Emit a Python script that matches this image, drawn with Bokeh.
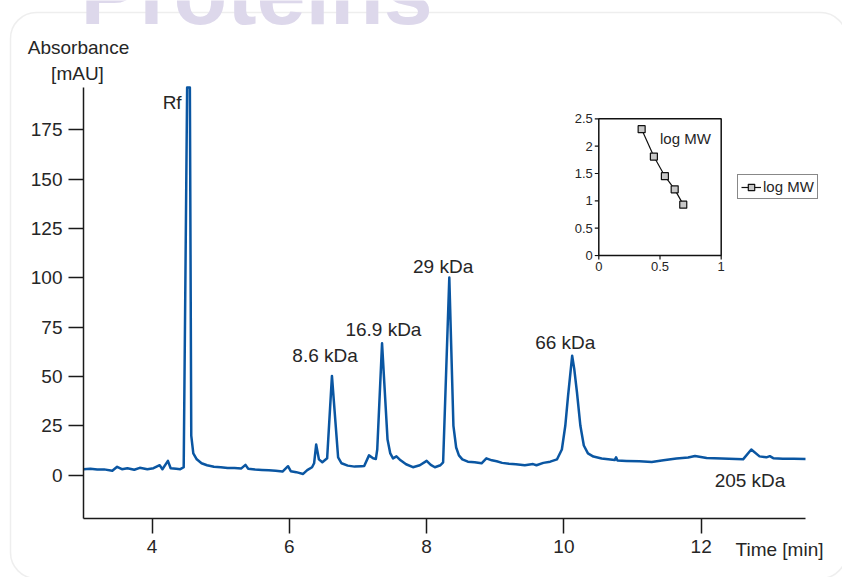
import math
from bokeh.plotting import figure
from bokeh.models import (Range1d, FixedTicker, Label, BoxAnnotation, Legend, LegendItem)
from bokeh.core.properties import value
from bokeh.embed import file_html
from bokeh.resources import INLINE

# ---------------- data ----------------
time_min = [3.00, 3.10, 3.20, 3.30, 3.42, 3.49, 3.56, 3.64, 3.74, 3.82, 3.93, 4.02,
            4.11, 4.15, 4.23, 4.27, 4.35, 4.41, 4.46, 4.51, 4.55, 4.57, 4.60, 4.65,
            4.72, 4.80, 4.90, 5.00, 5.10, 5.20, 5.30, 5.36, 5.40, 5.50, 5.60, 5.70,
            5.80, 5.90, 5.98, 6.02, 6.10, 6.20, 6.26, 6.33, 6.36, 6.39, 6.43, 6.48,
            6.55, 6.62, 6.71, 6.76, 6.85, 6.95, 7.05, 7.09, 7.16, 7.22, 7.26, 7.28,
            7.35, 7.43, 7.47, 7.51, 7.56, 7.62, 7.70, 7.80, 7.90, 8.00, 8.06, 8.12,
            8.20, 8.24, 8.33, 8.39, 8.43, 8.47, 8.52, 8.60, 8.70, 8.80, 8.87, 8.95,
            9.02, 9.10, 9.20, 9.30, 9.43, 9.55, 9.60, 9.70, 9.80, 9.90, 9.97, 10.02,
            10.06, 10.12, 10.15, 10.19, 10.24, 10.29, 10.35, 10.43, 10.55, 10.74, 10.76,
            10.78, 10.91, 11.10, 11.28, 11.45, 11.64, 11.81, 11.91, 12.08, 12.30, 12.61,
            12.73, 12.85, 12.95, 13.00, 13.05, 13.19, 13.35, 13.52]
absorbance = [3.0, 3.2, 2.8, 2.9, 2.2, 4.2, 3.0, 3.5, 2.7, 3.7, 3.0, 3.5,
              5.0, 3.0, 7.2, 3.5, 3.2, 3.0, 4.0, 196.5, 196.5, 20.0, 11.0, 8.0,
              6.0, 5.0, 4.2, 4.0, 3.6, 3.6, 3.4, 5.2, 3.2, 2.8, 2.6, 2.4,
              2.2, 1.8, 4.5, 2.0, 1.5, 0.6, 2.5, 4.0, 6.0, 15.5, 8.0, 6.5,
              8.5, 50.3, 9.0, 6.0, 4.8, 4.3, 4.5, 4.6, 10.0, 8.5, 8.2, 13.0,
              66.8, 18.0, 11.0, 8.5, 9.5, 7.5, 5.5, 4.0, 5.0, 7.2, 5.2, 4.0,
              5.0, 6.5, 100.2, 25.0, 14.0, 10.0, 8.0, 6.8, 6.5, 6.0, 8.5, 7.5,
              7.0, 6.2, 5.8, 5.5, 5.0, 5.6, 5.0, 6.2, 6.8, 8.0, 13.0, 25.0,
              40.0, 60.5, 54.0, 42.0, 25.0, 15.0, 11.0, 9.4, 8.4, 7.6, 9.0,
              7.4, 7.2, 7.0, 6.7, 7.5, 8.4, 8.9, 9.7, 8.7, 8.4, 8.0,
              13.0, 9.5, 9.0, 9.6, 8.6, 8.3, 8.3, 8.2]

x_ticks = [4, 6, 8, 10, 12]
y_ticks = [0, 25, 50, 75, 100, 125, 150, 175]

peak_labels = ["Rf", "8.6 kDa", "16.9 kDa", "29 kDa", "66 kDa", "205  kDa"]
peak_label_t = [4.43, 6.52, 7.37, 8.24, 10.02, 12.75]
peak_label_v = [189.0, 60.8, 73.9, 106.0, 67.3, -2.5]
peak_label_align = ["right", "center", "center", "center", "center", "center"]

# inset: log MW vs relative mobility
inset_mobility = [0.35, 0.45, 0.54, 0.62, 0.69]
inset_logmw = [2.31, 1.81, 1.45, 1.21, 0.93]
inset_x_ticks = [0, 0.5, 1]
inset_x_labels = ["0", "0.5", "1"]
inset_y_ticks = [0, 0.5, 1, 1.5, 2, 2.5]
inset_y_labels = ["0", "0.5", "1", "1.5", "2", "2.5"]

# ---------------- layout geometry (canvas px) ----------------
W, H = 842, 577
AL, AR, AT, AB = 83, 805, 87, 518     # where the main axes sit
x0, x1 = 3.0, 13.52                   # main axis extents
y0, y1 = -22.0, 196.5

xpp = (x1 - x0) / (AR - AL)
ypp = (y1 - y0) / (AB - AT)
xs, xe = x0 - AL * xpp, x1 + (W - AR) * xpp
ys, ye = y0 - (H - AB) * ypp, y1 + AT * ypp


def X(px):
    return xs + px * xpp


def Y(py):
    return ye - py * ypp


p = figure(width=W, height=H, output_backend="svg", toolbar_location=None,
           x_range=Range1d(xs, xe), y_range=Range1d(ys, ye), title=None,
           min_border=0, min_border_left=0, min_border_right=0,
           min_border_top=0, min_border_bottom=0)
p.outline_line_color = None
p.xgrid.visible = False
p.ygrid.visible = False
p.background_fill_color = "white"
p.border_fill_color = "white"

TICK_FONT = "Liberation Sans"
TEXT_FONT = "Liberation Sans"
TXT = "#262626"

for ax in (p.xaxis[0], p.yaxis[0]):
    ax.axis_line_color = "#1a1a1a"
    ax.axis_line_width = 1.5
    ax.major_tick_line_color = "#1a1a1a"
    ax.major_tick_line_width = 1.5
    ax.major_tick_out = 15
    ax.major_tick_in = 0
    ax.minor_tick_line_color = None
    ax.major_label_text_font = TICK_FONT
    ax.major_label_text_font_size = "19px"
    ax.major_label_text_color = TXT
    ax.major_label_standoff = 6
p.xaxis[0].ticker = FixedTicker(ticks=x_ticks)
p.yaxis[0].ticker = FixedTicker(ticks=y_ticks)
p.xaxis[0].fixed_location = y0
p.xaxis[0].bounds = (x0, x1)
p.yaxis[0].fixed_location = x0
p.yaxis[0].bounds = (y0, y1)

# rounded frame around the whole panel
frame_box = BoxAnnotation(left=X(10), right=X(846), top=Y(12), bottom=Y(578),
                          fill_alpha=0, line_color="#c8c8c8", line_width=1.5,
                          border_radius=26)
p.add_layout(frame_box)

# big faded header word (only its lower part shows at the top edge)
p.add_layout(Label(x=X(80), y=Y(-7), text="Proteins", text_font=TEXT_FONT,
                   text_font_size="88px", text_font_style="bold",
                   text_color="#ddd8eb", text_baseline="middle"))

# chromatogram trace
p.line(time_min, absorbance, line_color="#0a56a2", line_width=2.5, line_join="round")

# peak labels
for txt, t, v, al in zip(peak_labels, peak_label_t, peak_label_v, peak_label_align):
    p.add_layout(Label(x=t, y=v, text=txt, text_font=TEXT_FONT, text_font_size="19px",
                       text_color=TXT, text_align=al, text_baseline="middle"))

# axis titles
p.add_layout(Label(x=X(78), y=Y(47), text="Absorbance", text_font=TEXT_FONT,
                   text_font_size="19px", text_color=TXT, text_align="center",
                   text_baseline="middle"))
p.add_layout(Label(x=X(77), y=Y(73), text="[mAU]", text_font=TEXT_FONT,
                   text_font_size="19px", text_color=TXT, text_align="center",
                   text_baseline="middle"))
p.add_layout(Label(x=X(779), y=Y(549), text="Time [min]", text_font=TEXT_FONT,
                   text_font_size="19px", text_color=TXT, text_align="center",
                   text_baseline="middle"))

# ---------------- inset (own ranges mapped into a sub-box of the canvas) -------------
IL, IR, IT, IB = 598.3, 720.7, 118.3, 255.0
ix_per = (IR - IL) / 1.0
iy_per = (IB - IT) / 2.5
p.extra_x_ranges = {"ix": Range1d(0 - IL / ix_per, 1 + (W - IR) / ix_per)}
p.extra_y_ranges = {"iy": Range1d(0 - (H - IB) / iy_per, 2.5 + IT / iy_per)}

kw = dict(x_range_name="ix", y_range_name="iy")
p.quad(left=[inset_x_ticks[0]], right=[inset_x_ticks[-1]],
       bottom=[inset_y_ticks[0]], top=[inset_y_ticks[-1]],
       fill_alpha=0, line_color="#111111", line_width=1.5, **kw)
p.ray(x=[0] * len(inset_y_ticks), y=inset_y_ticks, length=4, angle=math.pi,
      length_units="screen", line_color="#111111", line_width=1.2, **kw)
p.ray(x=inset_x_ticks, y=[0] * len(inset_x_ticks), length=4, angle=-math.pi / 2,
      length_units="screen", line_color="#111111", line_width=1.2, **kw)
p.text(x=[0] * len(inset_y_ticks), y=inset_y_ticks, text=inset_y_labels,
       x_offset=-6, text_align="right", text_baseline="middle",
       text_font=value(TICK_FONT), text_font_size="13px", text_color=TXT, **kw)
p.text(x=inset_x_ticks, y=[0] * len(inset_x_ticks), text=inset_x_labels,
       y_offset=6, text_align="center", text_baseline="top",
       text_font=value(TICK_FONT), text_font_size="13px", text_color=TXT, **kw)
ln = p.line(inset_mobility, inset_logmw, line_color="#111111", line_width=1.2, **kw)
sc = p.scatter(inset_mobility, inset_logmw, marker="square", size=7,
               fill_color="#c8c8c8", line_color="#111111", line_width=1.2, **kw)
p.add_layout(Label(x=0.5, y=2.14, text="log MW", x_range_name="ix", y_range_name="iy",
                   text_font=TICK_FONT, text_font_size="15px", text_color=TXT,
                   text_baseline="middle"))

legend = Legend(items=[LegendItem(label="log MW", renderers=[ln, sc])],
                location=(737, H - 199), border_line_color="#111111", border_line_width=1,
                padding=3, spacing=0, margin=0, glyph_width=20, glyph_height=16,
                label_standoff=2, label_height=16, label_text_font=TICK_FONT,
                label_text_font_size="15px", label_text_color=TXT,
                background_fill_color="white", background_fill_alpha=1)
p.add_layout(legend)

open("out.html", "w").write(file_html(p, INLINE))
